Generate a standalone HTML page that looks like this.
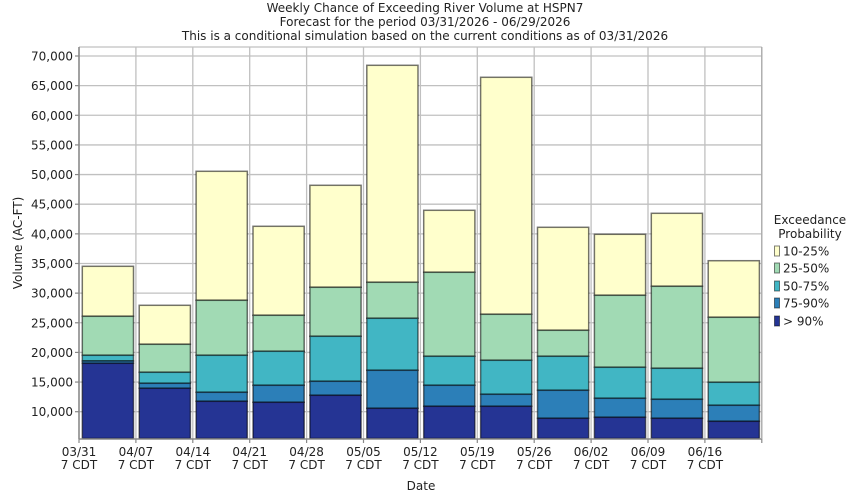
<!DOCTYPE html>
<html><head><meta charset="utf-8"><style>
html,body{margin:0;padding:0;background:#fff;}
svg{display:block;}
text{font-family:"DejaVu Sans","Liberation Sans",sans-serif;font-size:12px;fill:#222;}
</style></head><body>
<svg width="850" height="500" viewBox="0 0 850 500" xmlns="http://www.w3.org/2000/svg">
<rect x="0" y="0" width="850" height="500" fill="#fff"/>
<text x="425" y="12" text-anchor="middle">Weekly Chance of Exceeding River Volume at HSPN7</text>
<text x="425" y="26" text-anchor="middle">Forecast for the period 03/31/2026 - 06/29/2026</text>
<text x="425" y="40" text-anchor="middle">This is a conditional simulation based on the current conditions as of 03/31/2026</text>
<g id="grid" stroke="#c0c0c0" stroke-width="1.3"></g>
<g id="bars"></g>
<g id="axes"></g>
<text transform="translate(22,243) rotate(-90)" text-anchor="middle">Volume (AC-FT)</text>
<text x="421" y="490" text-anchor="middle">Date</text>
<text x="810" y="224" text-anchor="middle">Exceedance</text>
<text x="810" y="238" text-anchor="middle">Probability</text>
<g id="legend"></g>
<script>
var ns="http://www.w3.org/2000/svg";
function el(p,t,a,txt){var e=document.createElementNS(ns,t);for(var k in a)e.setAttribute(k,a[k]);if(txt!==undefined)e.textContent=txt;p.appendChild(e);return e;}
var grid=document.getElementById('grid'),bars=document.getElementById('bars'),axes=document.getElementById('axes'),leg=document.getElementById('legend');
var L=79,R=761.8,T=47,B=439,S=56.9;
function yv(v){return 411.7-(v-10000)/1000*5.9283;}
// horizontal grid
el(grid,'line',{x1:L,x2:R,y1:T,y2:T});
for(var v=10000;v<=70000;v+=5000){var y=yv(v);el(grid,'line',{x1:L,x2:R,y1:y,y2:y});
 el(axes,'line',{x1:75,x2:L,y1:y,y2:y,stroke:'#888','stroke-width':1.2});
 el(axes,'text',{x:73,y:y+4.5,'text-anchor':'end'},(v/1000)+',000');}
for(var i=0;i<=12;i++){var x=L+S*i;el(grid,'line',{x1:x,x2:x,y1:T,y2:B});
 el(axes,'line',{x1:x,x2:x,y1:B,y2:B+4,stroke:'#888','stroke-width':1.2});}
var labels=['03/31','04/07','04/14','04/21','04/28','05/05','05/12','05/19','05/26','06/02','06/09','06/16'];
for(var i=0;i<12;i++){var x=L+S*i;el(axes,'text',{x:x,y:456,'text-anchor':'middle'},labels[i]);el(axes,'text',{x:x,y:469,'text-anchor':'middle'},'7 CDT');}
el(axes,'line',{x1:L,x2:L,y1:T,y2:B,stroke:'#888','stroke-width':1.5});
el(axes,'line',{x1:L,x2:R,y1:B,y2:B,stroke:'#888','stroke-width':1.5});
el(axes,'line',{x1:R,x2:R,y1:T,y2:B,stroke:'#aaa','stroke-width':1.3});
var cols=['#FFFFCC','#A1DAB4','#41B6C4','#2C7FB8','#253494'];
var data=[
[266.3,316.3,355.3,361,363.3],
[305.3,344.3,372.3,383.3,388.3],
[171.3,300.3,355.3,392.3,401.3],
[226.3,315.3,351.3,385.3,402.3],
[185.3,287.3,336.3,381.3,395.3],
[65.3,282.3,318.3,370.3,408.3],
[210.3,272.3,356.3,385.3,406.3],
[77.3,314.3,360.3,394.3,406.3],
[227.3,330.3,356.3,390.3,418.3],
[234.3,295.3,367.3,398.3,417.3],
[213.3,286.3,368.3,399.3,418.3],
[260.7,317.3,382.3,405.3,421.3]];
for(var i=0;i<12;i++){var x=L+S*i+3.3,w=51.2;var d=data[i];
 for(var j=0;j<5;j++){var y1=d[j],y2=(j<4?d[j+1]:438.5);
  el(bars,'rect',{x:x,y:y1,width:w,height:y2-y1,fill:cols[j],stroke:'rgba(0,0,0,0.55)','stroke-width':1.5});}}
var ln=['10-25%','25-50%','50-75%','75-90%','> 90%'],ly=[251,268,286,303,321];
for(var j=0;j<5;j++){el(leg,'rect',{x:774.5,y:ly[j]-5,width:5,height:10,fill:cols[j],stroke:'rgba(0,0,0,0.5)','stroke-width':1});
 el(leg,'text',{x:783,y:ly[j]+4.5},ln[j]);}
</script>
</svg>
</body></html>
